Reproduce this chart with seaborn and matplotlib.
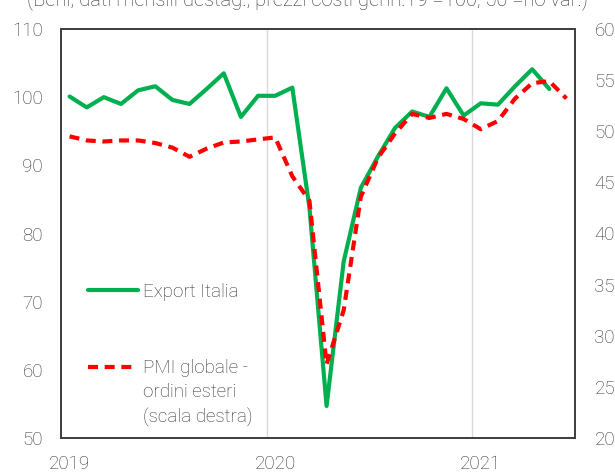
import numpy as np
import pandas as pd
import matplotlib
matplotlib.use("Agg")
import matplotlib.pyplot as plt
import seaborn as sns

# monthly data, Jan 2019 - Jun 2021
mesi = pd.period_range("2019-01", "2021-06", freq="M").strftime("%Y-%m").tolist()
export_italia = [100.1, 98.5, 100.0, 99.0, 101.0, 101.6, 99.6, 99.0, 101.2, 103.5, 97.1, 100.2,
                 100.2, 101.4, 83.8, 54.7, 75.9, 86.7, 91.3, 95.5, 97.9, 97.1, 101.3, 97.3,
                 99.1, 98.9, 101.6, 104.1, 101.2]
pmi_ordini_esteri = [49.5, 49.1, 49.0, 49.1, 49.1, 48.85, 48.4, 47.5, 48.3, 48.9, 49.0, 49.2,
                     49.4, 45.6, 43.2, 27.2, 32.5, 43.6, 47.4, 49.8, 51.7, 51.3, 51.7, 51.2,
                     50.2, 51.0, 53.2, 54.7, 54.9, 53.2]
anni = ["2019", "2020", "2021"]
titolo = "(Beni, dati mensili destag.; prezzi costi genn.19 =100; 50 =no var.)"

df_exp = pd.DataFrame({"pos": range(len(export_italia)), "val": export_italia})
df_pmi = pd.DataFrame({"pos": range(len(pmi_ordini_esteri)), "val": pmi_ordini_esteri})

sns.set_style("white")
plt.rcParams["font.family"] = ["Roboto", "DejaVu Sans"]
plt.rcParams["font.weight"] = "light"
txt_col = "#333333"
fs = 13.5

fig = plt.figure(figsize=(6.15, 4.75), dpi=100)
ax = fig.add_axes([61 / 615, 37 / 475, 514 / 615, 409 / 475])
ax2 = ax.twinx()

sns.lineplot(data=df_exp, x="pos", y="val", ax=ax, color="#00B050", linewidth=3,
             label="Export Italia", legend=False)
sns.lineplot(data=df_pmi, x="pos", y="val", ax=ax2, color="#FF0000", linewidth=3,
             linestyle=(0, (2.4, 1.6)), label="PMI globale -", legend=False)

ax.set_xlim(-0.5, len(mesi) - 0.5)
ax.set_ylim(50, 110)
ax.set_yticks(np.arange(50, 111, 10))
ax2.set_ylim(20, 60)
ax2.set_yticks(np.arange(20, 61, 5))
ax.set_xticks([mesi.index(a + "-01") for a in anni])
ax.set_xticklabels(anni)
ax.set_xticks([mesi.index(a + "-01") - 0.5 for a in anni[1:]], minor=True)
ax.grid(which="minor", axis="x", color="#D9D9D9", linewidth=1)
ax.grid(which="major", visible=False)
ax2.grid(False)
ax.set_xlabel("")
ax.set_ylabel("")
ax2.set_ylabel("")

ax.tick_params(axis="both", which="both", length=0, labelsize=fs, labelcolor=txt_col)
ax.tick_params(axis="y", pad=13)
ax.tick_params(axis="x", pad=12)
ax2.tick_params(axis="y", length=0, labelsize=fs, labelcolor=txt_col, pad=14)
for a in (ax, ax2):
    for s in a.spines.values():
        s.set_color("#404040")
        s.set_linewidth(1.3)

# legend
h1, l1 = ax.get_legend_handles_labels()
h2, l2 = ax2.get_legend_handles_labels()
leg = ax2.legend(h1 + h2, l1 + l2, loc="upper left", bbox_to_anchor=(0.0525, 0.38),
                 frameon=False, borderpad=0, borderaxespad=0, fontsize=fs,
                 handlelength=2.67, handletextpad=0.27, labelspacing=3.12)
for t in leg.get_texts():
    t.set_color(txt_col)
fig.canvas.draw()
bb = leg.get_texts()[1].get_window_extent().transformed(fig.transFigure.inverted())
fig.text(bb.x0, bb.y0 - 6 / 475, "ordini esteri\n(scala destra)", va="top", ha="left",
         fontsize=fs, color=txt_col, linespacing=1.45)

fig.text(0.5, 1 - 5 / 475, titolo, ha="center", va="baseline", fontsize=14.5, color=txt_col)

fig.savefig("out.png", dpi=100)
